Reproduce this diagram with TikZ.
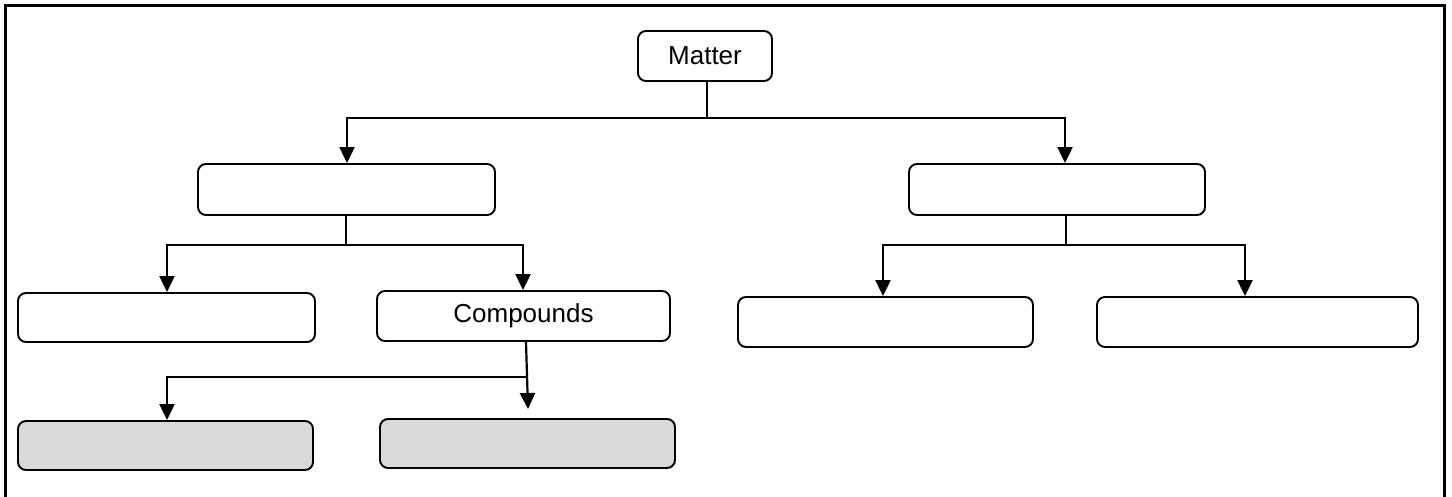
\documentclass[tikz,border=0pt]{standalone}
\usepackage{fontspec}
\setmainfont{Liberation Sans}
\usetikzlibrary{arrows.meta}
\begin{document}
\begin{tikzpicture}[x=1pt,y=-1pt,
  box/.style={draw,line width=1.9pt,rounded corners=8pt,inner sep=0pt,
    font=\fontsize{26}{30}\selectfont},
  gbox/.style={box,fill=gray!30},
  conn/.style={line width=2.2pt},
  arr/.style={conn,-{Triangle[width=15pt,length=16pt]}}]
\useasboundingbox (0,0) rectangle (1452,497);
% frame
\draw[line width=3pt] (5,497) -- (5,6) -- (1444,6) -- (1444,497);
% nodes
\node[box,minimum width=134pt,minimum height=50pt] (matter) at (705,56) {Matter};
\node[box,minimum width=297pt,minimum height=51pt] (a) at (346.5,189.5) {};
\node[box,minimum width=296pt,minimum height=51pt] (b) at (1057,189.5) {};
\node[box,minimum width=297pt,minimum height=49pt] (c) at (166.5,317.5) {};
\node[box,minimum width=293pt,minimum height=50pt] (comp) at (523.5,316) {Compounds};
\node[box,minimum width=295pt,minimum height=50pt] (d) at (885.5,322) {};
\node[box,minimum width=321pt,minimum height=50pt] (e) at (1257.5,322) {};
\node[gbox,minimum width=295pt,minimum height=49pt] (g1) at (165.5,445.5) {};
\node[gbox,minimum width=295pt,minimum height=49pt] (g2) at (527.5,443.5) {};
% junctions
\coordinate (j0) at (707,118);
\coordinate (j1) at (346,245);
\coordinate (j2) at (1066,245);
\coordinate (j3) at (526,377);
\coordinate (t2) at (528,409);
% connectors
\draw[conn] (matter.south -| j0) -- (j0);
\draw[arr] (j0) -| (a.north -| 347,0);
\draw[arr] (j0) -| (b.north -| 1065,0);
\draw[conn] (a.south -| j1) -- (j1);
\draw[arr] (j1) -| (c.north -| 167,0);
\draw[arr] (j1) -| (comp.north -| 523,0);
\draw[conn] (b.south -| j2) -- (j2);
\draw[arr] (j2) -| (d.north -| 883,0);
\draw[arr] (j2) -| (e.north -| 1245,0);
\draw[arr] (comp.south -| j3) -- (t2);
\draw[arr] (j3) -| (g1.north -| 167,0);
\end{tikzpicture}
\end{document}
